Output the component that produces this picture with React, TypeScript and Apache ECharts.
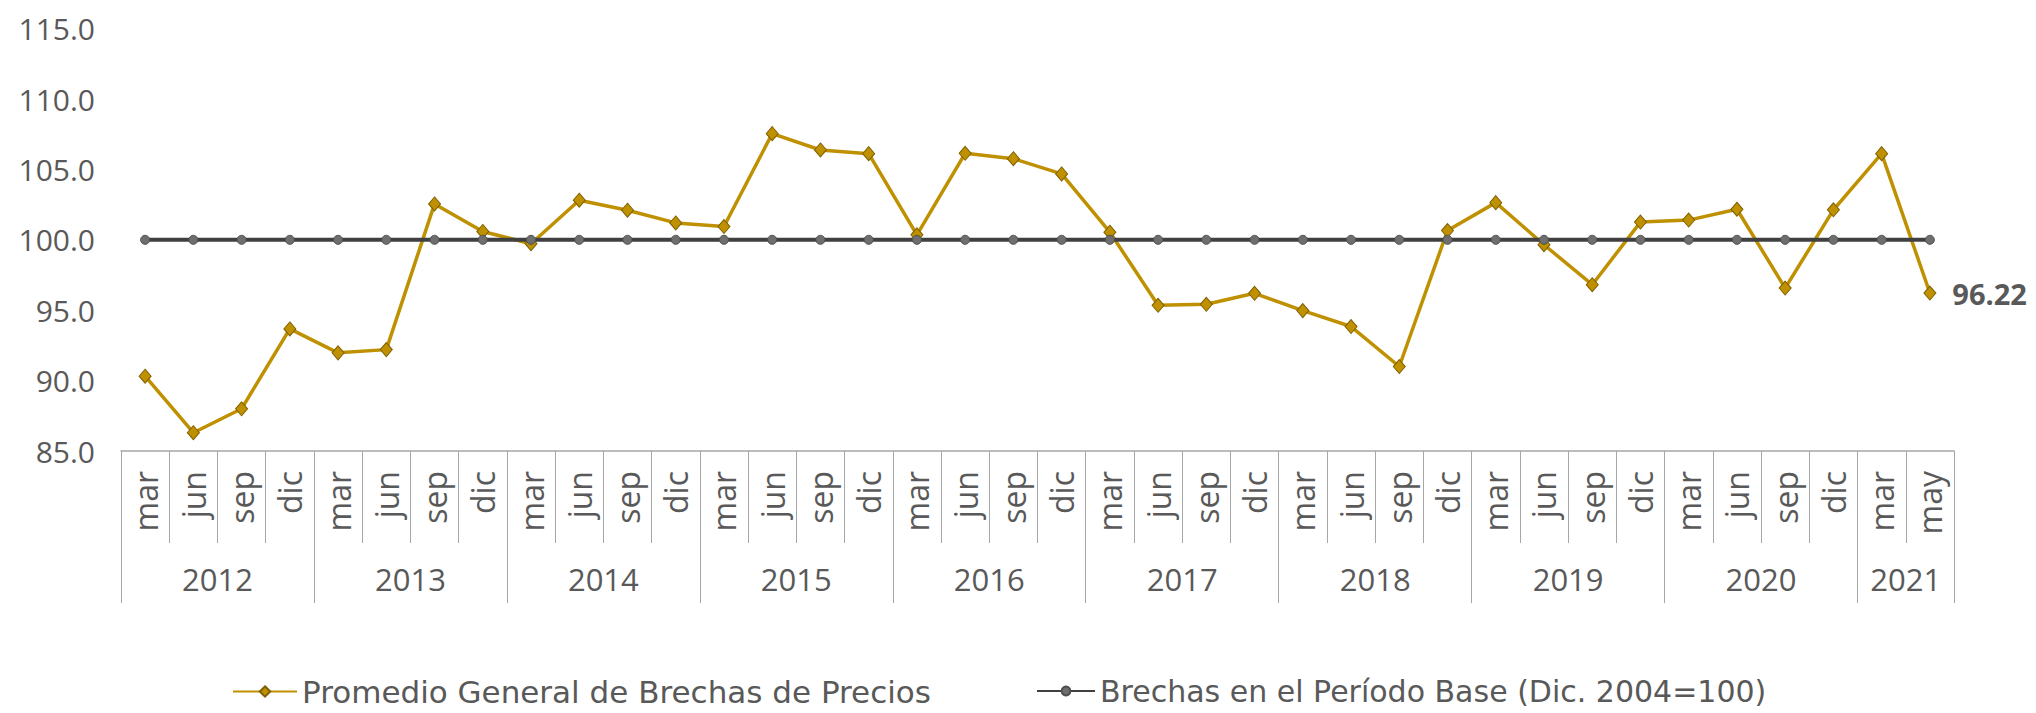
import React, { useEffect, useRef } from "react";
import * as echarts from "echarts";

const months = [
  "mar", "jun", "sep", "dic",
  "mar", "jun", "sep", "dic",
  "mar", "jun", "sep", "dic",
  "mar", "jun", "sep", "dic",
  "mar", "jun", "sep", "dic",
  "mar", "jun", "sep", "dic",
  "mar", "jun", "sep", "dic",
  "mar", "jun", "sep", "dic",
  "mar", "jun", "sep", "dic",
  "mar", "may",
];
const years = ["2012", "2013", "2014", "2015", "2016", "2017", "2018", "2019", "2020", "2021"];
const monthsPerYear = [4, 4, 4, 4, 4, 4, 4, 4, 4, 2];

const promedio = [
  90.31, 86.3, 88.0, 93.67,
  91.97, 92.2, 102.55, 100.59,
  99.72, 102.81, 102.1, 101.2,
  100.94, 107.54, 106.38, 106.12,
  100.35, 106.14, 105.76, 104.68,
  100.54, 95.35, 95.42, 96.2,
  94.97, 93.84, 91.0, 100.66,
  102.64, 99.65, 96.81, 101.26,
  101.4, 102.17, 96.57, 102.13,
  106.12, 96.22,
];
const base = [
  100, 100, 100, 100, 100, 100, 100, 100, 100, 100,
  100, 100, 100, 100, 100, 100, 100, 100, 100, 100,
  100, 100, 100, 100, 100, 100, 100, 100, 100, 100,
  100, 100, 100, 100, 100, 100, 100, 100,
];
const yTicks = { min: 85, max: 115, interval: 5 };

const S1 = "Promedio General de Brechas de Precios";
const S2 = "Brechas en el Período Base (Dic. 2004=100)";

const FONT = "Open Sans";
const LEGEND_FONT = "DejaVu Sans";
const TXT = "#595959";
const AX = "#A6A6A6";

export default function App() {
  const ref = useRef<HTMLDivElement>(null);
  useEffect(() => {
    if (!ref.current) return;
    const chart = echarts.init(ref.current, null, { renderer: "svg" });

    const bounds: number[] = [0];
    const mids: number[] = [];
    let acc = 0;
    monthsPerYear.forEach((n) => {
      mids.push(acc + n / 2);
      acc += n;
      bounds.push(acc);
    });
    const last = promedio.length - 1;

    chart.setOption({
      animation: false,
      textStyle: { fontFamily: FONT },
      grid: { left: 121, right: 82, top: 28.6, bottom: 262, containLabel: false },
      legend: [
        {
          data: [S1],
          left: 227,
          top: 671,
          itemWidth: 64,
          itemHeight: 13,
          textStyle: { fontSize: 31, color: TXT, fontFamily: LEGEND_FONT },
        },
        {
          data: [S2],
          left: 1031,
          top: 671,
          itemWidth: 58,
          itemHeight: 11,
          textStyle: { fontSize: 30, color: TXT, fontFamily: LEGEND_FONT },
        },
      ],
      xAxis: [
        {
          type: "category",
          data: months,
          boundaryGap: true,
          position: "bottom",
          axisLine: { show: true, lineStyle: { color: AX, width: 1.5 } },
          axisTick: { show: true, interval: 0, length: 92, lineStyle: { color: AX, width: 1 } },
          axisLabel: {
            interval: 0,
            rotate: 90,
            margin: 20,
            fontSize: 32,
            color: TXT,
            fontFamily: FONT,
          },
          splitLine: { show: false },
        },
        {
          type: "value",
          min: 0,
          max: months.length,
          position: "bottom",
          axisLine: { show: false },
          splitLine: { show: false },
          axisTick: {
            show: true,
            customValues: bounds,
            length: 152,
            lineStyle: { color: AX, width: 1 },
          },
          axisLabel: {
            customValues: mids,
            margin: 112,
            fontSize: 31,
            color: TXT,
            fontFamily: FONT,
            formatter: (v: number) => {
              const i = mids.indexOf(v);
              return i >= 0 ? years[i] : "";
            },
          },
        },
      ],
      yAxis: {
        type: "value",
        min: yTicks.min,
        max: yTicks.max,
        interval: yTicks.interval,
        axisLine: { show: false },
        axisTick: { show: false },
        splitLine: { show: false },
        axisLabel: {
          margin: 26,
          fontSize: 30,
          color: TXT,
          fontFamily: FONT,
          formatter: (v: number) => v.toFixed(1),
        },
      },
      series: [
        {
          name: S1,
          type: "line",
          xAxisIndex: 0,
          data: promedio.map((v, i) =>
            i === last
              ? {
                  value: v,
                  label: {
                    show: true,
                    position: "right",
                    distance: 16,
                    formatter: v.toFixed(2),
                    fontSize: 29,
                    fontWeight: "bold",
                    color: TXT,
                    fontFamily: FONT,
                  },
                }
              : v
          ),
          symbol: "diamond",
          symbolSize: [12, 14],
          showAllSymbol: true,
          lineStyle: { color: "#BF9000", width: 3.5 },
          itemStyle: { color: "#BF9000", borderColor: "#7F6000", borderWidth: 1 },
          z: 2,
        },
        {
          name: S2,
          type: "line",
          xAxisIndex: 0,
          data: base,
          symbol: "circle",
          symbolSize: 9,
          showAllSymbol: true,
          lineStyle: { color: "#404040", width: 4 },
          itemStyle: { color: "#6E6E6E", borderColor: "#505050", borderWidth: 1 },
          z: 3,
        },
      ],
    });
    return () => chart.dispose();
  }, []);

  return (
    <div
      ref={ref}
      style={{ position: "fixed", left: 0, top: 0, width: 2036, height: 713, background: "#fff" }}
    />
  );
}
